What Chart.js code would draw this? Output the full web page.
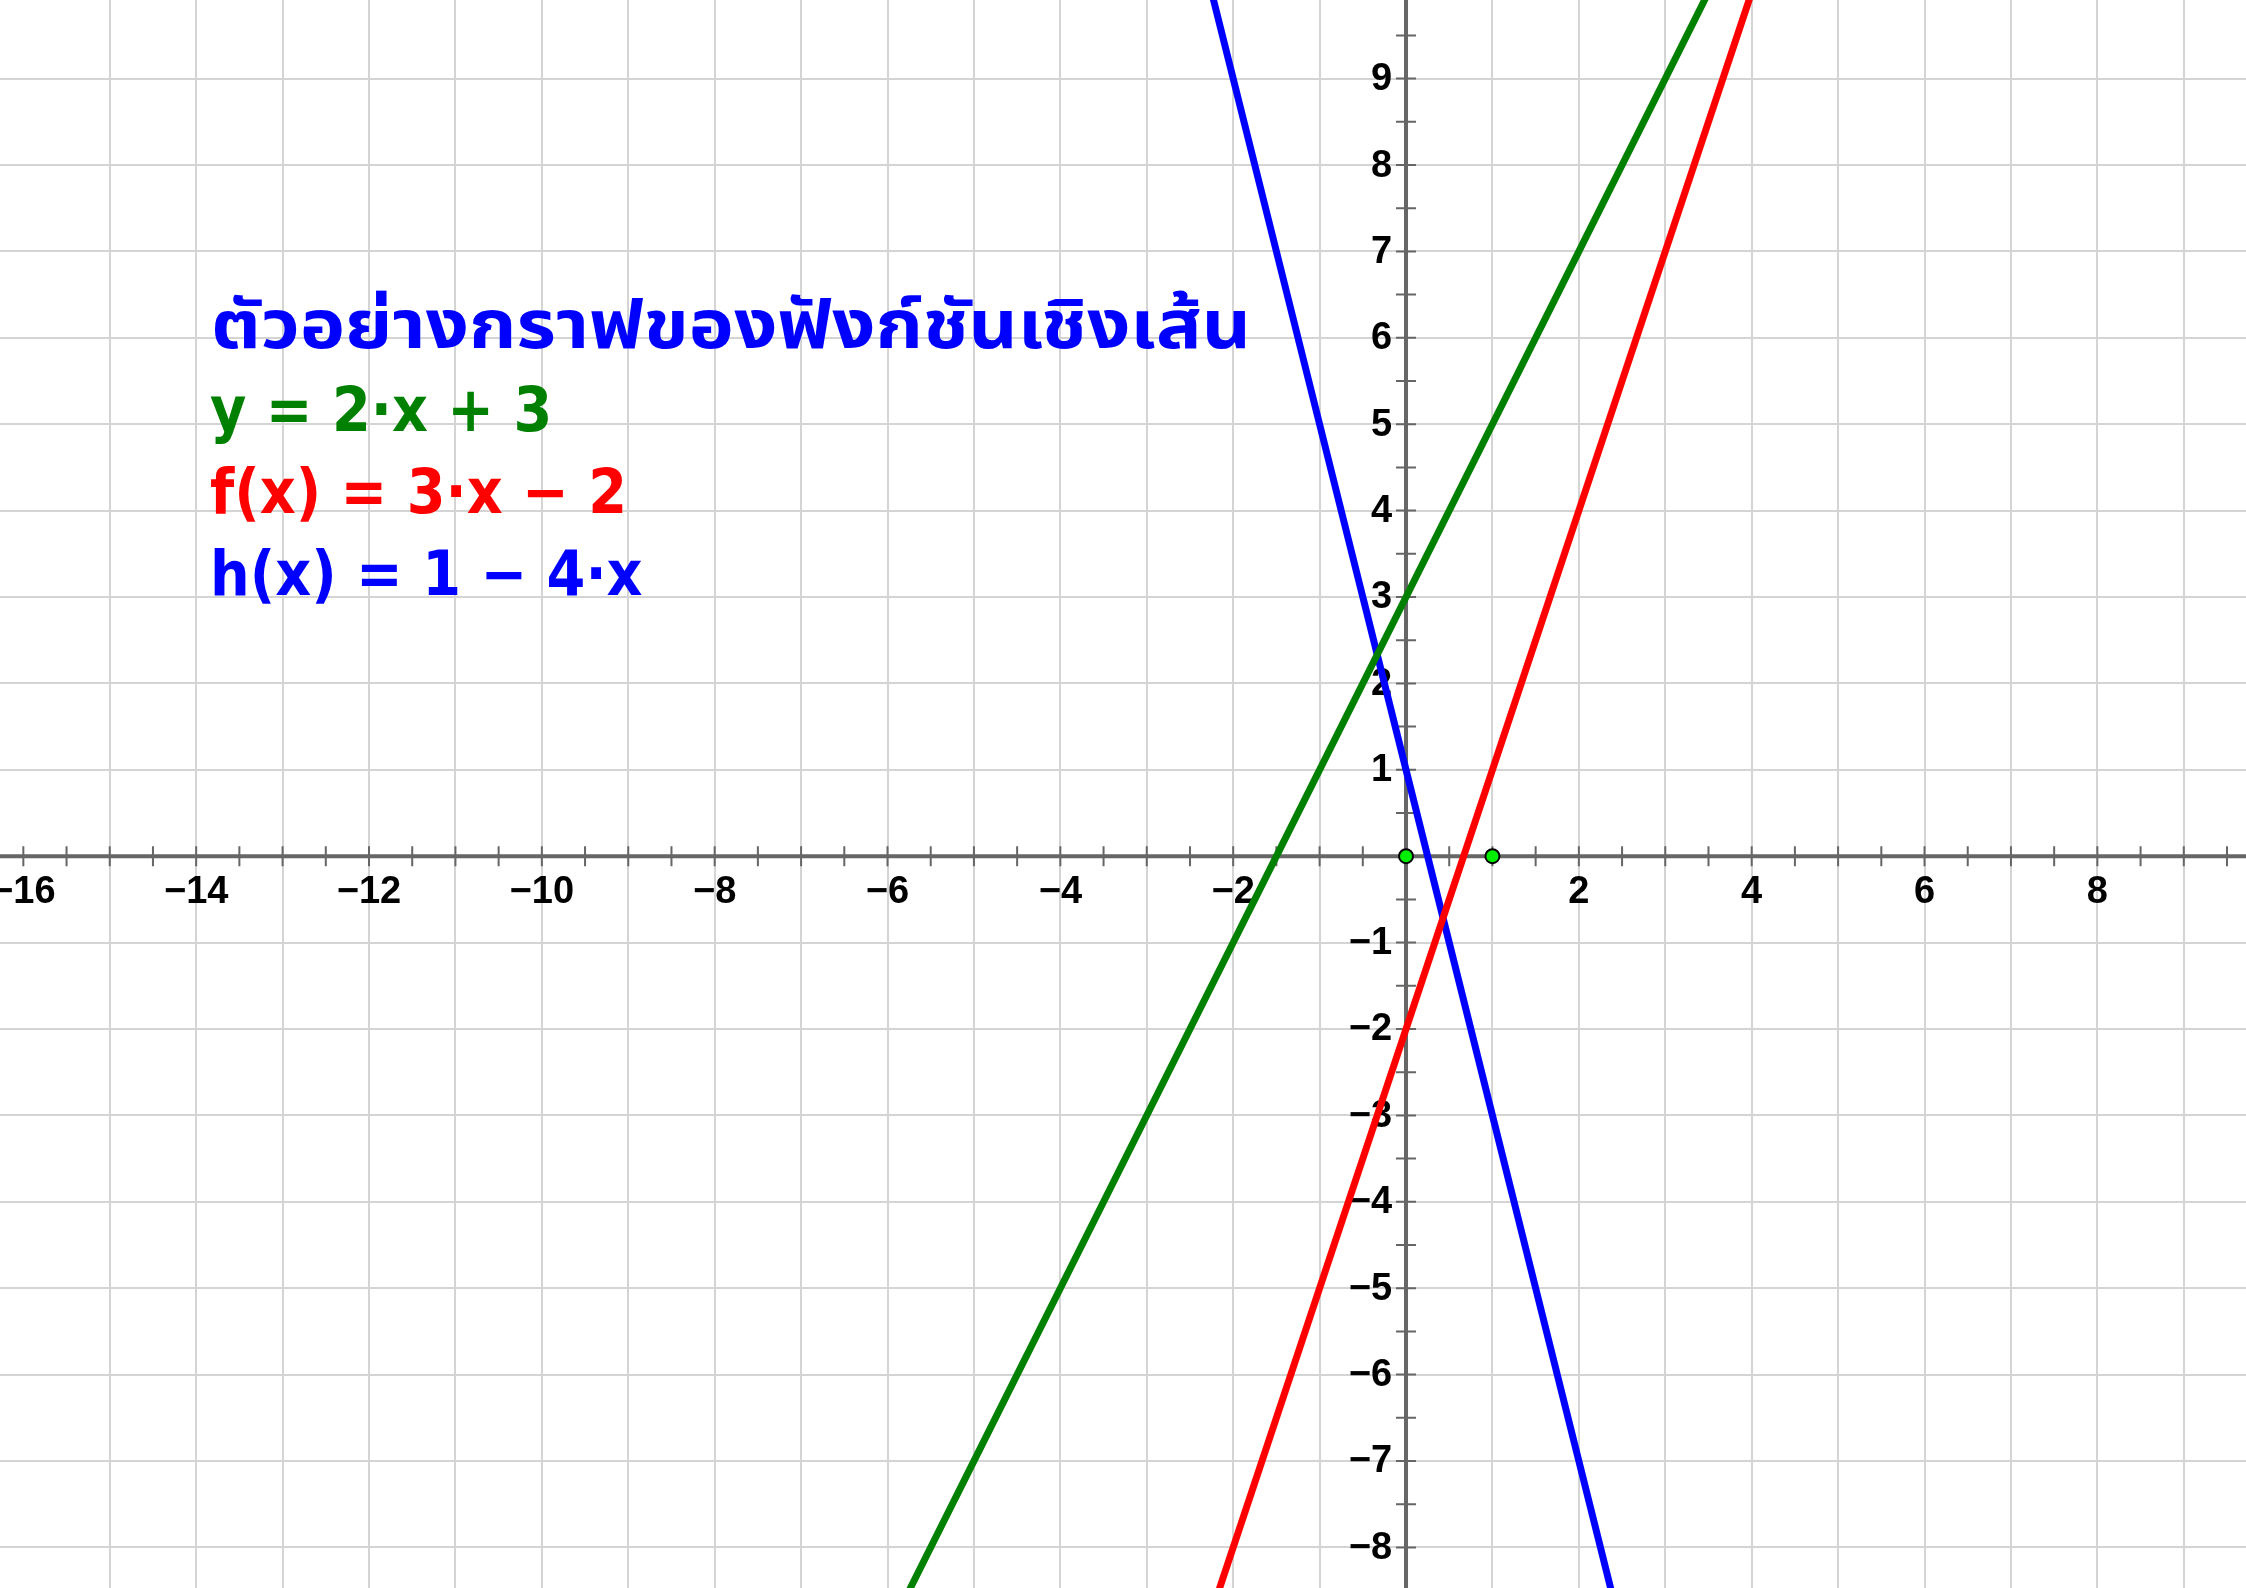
<!DOCTYPE html>
<html>
<head>
<meta charset="utf-8">
<script src="https://cdn.jsdelivr.net/npm/chart.js@4/dist/chart.umd.min.js"></script>
<style>
  html, body { margin: 0; padding: 0; background: #ffffff; }
  #wrap { position: relative; width: 2246px; height: 1588px; }
</style>
</head>
<body>
<div id="wrap"><canvas id="c"></canvas></div>
<script>
// ---- view window ----
const xRange = [-16.27, 9.72];
const yRange = [-8.47, 9.91];

// ---- series (two points read on each straight line, beyond the view) ----
const greenX = [-6, 4];
const greenY = [-9, 11];      // y = 2x + 3
const redX = [-3, 4];
const redY = [-11, 10];       // f(x) = 3x - 2
const blueX = [-3, 3];
const blueY = [13, -11];      // h(x) = 1 - 4x

// ---- marked points ----
const pointX = [0, 1];
const pointY = [0, 0];

// ---- tick labels ----
const xTickValues = [-16, -14, -12, -10, -8, -6, -4, -2, 2, 4, 6, 8];
const yTickValues = [-8, -7, -6, -5, -4, -3, -2, -1, 1, 2, 3, 4, 5, 6, 7, 8, 9];

// ---- text ----
const titleText = 'ตัวอย่างกราฟของฟังก์ชันเชิงเส้น';
const eqTexts = ['y = 2·x + 3', 'f(x) = 3·x − 2', 'h(x) = 1 − 4·x'];
const eqColors = ['#008000', '#ff0000', '#0000ff'];

const toPts = (xs, ys) => xs.map((x, i) => ({ x: x, y: ys[i] }));
const fmt = v => (v < 0 ? '\u2212' + Math.abs(v) : String(v));

const axesPlugin = {
  id: 'axesPlugin',
  beforeDatasetsDraw(chart) {
    const ctx = chart.ctx;
    const xs = chart.scales.x, ys = chart.scales.y;
    const ca = chart.chartArea;
    const x0 = xs.getPixelForValue(0), y0 = ys.getPixelForValue(0);
    ctx.save();
    // axes lines
    ctx.strokeStyle = '#666666';
    ctx.lineWidth = 4;
    ctx.beginPath();
    ctx.moveTo(ca.left, y0); ctx.lineTo(ca.right, y0);
    ctx.moveTo(x0, ca.top); ctx.lineTo(x0, ca.bottom);
    ctx.stroke();
    // tick marks every 0.5
    ctx.lineWidth = 2;
    ctx.beginPath();
    for (let v = Math.ceil(xs.min * 2) / 2; v <= xs.max; v += 0.5) {
      if (Math.abs(v) < 1e-9) continue;
      const px = xs.getPixelForValue(v);
      ctx.moveTo(px, y0 - 10); ctx.lineTo(px, y0 + 10);
    }
    for (let v = Math.ceil(ys.min * 2) / 2; v <= ys.max; v += 0.5) {
      if (Math.abs(v) < 1e-9) continue;
      const py = ys.getPixelForValue(v);
      ctx.moveTo(x0 - 10, py); ctx.lineTo(x0 + 10, py);
    }
    ctx.stroke();
    // labels
    ctx.fillStyle = '#000000';
    ctx.font = 'bold 38px "Liberation Sans", Arial, sans-serif';
    ctx.textAlign = 'center';
    ctx.textBaseline = 'middle';
    xTickValues.forEach(v => {
      ctx.fillText(fmt(v), xs.getPixelForValue(v), y0 + 36);
    });
    ctx.textAlign = 'right';
    yTickValues.forEach(v => {
      ctx.fillText(fmt(v), x0 - 14, ys.getPixelForValue(v) + 1);
    });
    ctx.restore();
  },
  afterDraw(chart) {
    const ctx = chart.ctx;
    ctx.save();
    ctx.textAlign = 'left';
    ctx.textBaseline = 'alphabetic';
    ctx.fillStyle = '#0000ff';
    ctx.font = 'bold 68px Tahoma, "Noto Sans Thai", "Noto Sans", "DejaVu Sans", sans-serif';
    const w = ctx.measureText(titleText).width;
    const targetW = 1040;
    ctx.save();
    ctx.translate(211, 348);
    ctx.scale(targetW / w, 1);
    ctx.fillText(titleText, 0, 0);
    ctx.restore();
    const bases = [431, 513, 595];
    ctx.font = 'bold 62px "DejaVu Sans Condensed", "DejaVu Sans", sans-serif';
    eqTexts.forEach((t, i) => {
      ctx.fillStyle = eqColors[i];
      ctx.fillText(t, 210, bases[i]);
    });
    ctx.restore();
  }
};

const gridOpts = { color: '#d4d4d4', lineWidth: 2, drawTicks: false };
const onlyIntegers = s => { s.ticks = s.ticks.filter(t => Math.abs(t.value - Math.round(t.value)) < 1e-9); };

new Chart(document.getElementById('c'), {
  type: 'scatter',
  data: {
    datasets: [
      {
        label: 'points',
        data: toPts(pointX, pointY),
        pointRadius: 7,
        pointBorderWidth: 2,
        pointBackgroundColor: '#00ee00',
        pointBorderColor: '#000000',
        showLine: false
      },
      {
        label: 'y = 2x + 3',
        data: toPts(greenX, greenY),
        showLine: true, borderColor: '#008000', borderWidth: 7, pointRadius: 0, fill: false
      },
      {
        label: 'f(x) = 3x - 2',
        data: toPts(redX, redY),
        showLine: true, borderColor: '#ff0000', borderWidth: 7, pointRadius: 0, fill: false
      },
      {
        label: 'h(x) = 1 - 4x',
        data: toPts(blueX, blueY),
        showLine: true, borderColor: '#0000ff', borderWidth: 7, pointRadius: 0, fill: false
      }
    ]
  },
  options: {
    responsive: true,
    maintainAspectRatio: false,
    animation: false,
    devicePixelRatio: 1,
    layout: { padding: 0, autoPadding: false },
    plugins: { legend: { display: false }, tooltip: { enabled: false } },
    scales: {
      x: {
        type: 'linear', min: xRange[0], max: xRange[1],
        ticks: { display: false, stepSize: 1 },
        grid: gridOpts, border: { display: false },
        afterBuildTicks: onlyIntegers,
        afterFit: s => { s.height = 0; }
      },
      y: {
        type: 'linear', min: yRange[0], max: yRange[1],
        ticks: { display: false, stepSize: 1 },
        grid: gridOpts, border: { display: false },
        afterBuildTicks: onlyIntegers,
        afterFit: s => { s.width = 0; }
      }
    }
  },
  plugins: [axesPlugin]
});
</script>
</body>
</html>
